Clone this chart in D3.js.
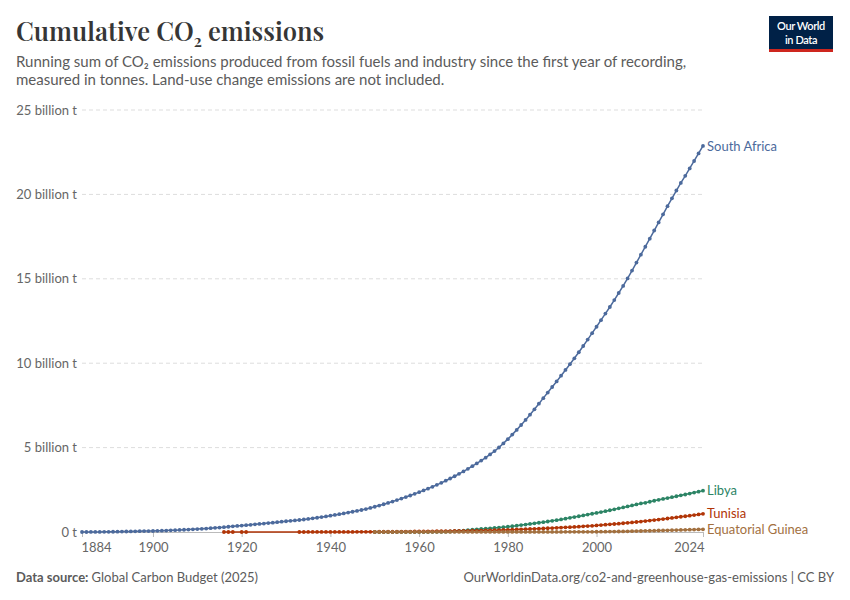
<!DOCTYPE html>
<html>
<head>
<meta charset="utf-8">
<script src="https://cdn.jsdelivr.net/npm/d3@7"></script>
<style>
  body { margin: 0; background: #fff; }
  text { font-family: Lato, "Noto Sans", sans-serif; }
</style>
</head>
<body>
<svg id="chart" width="850" height="600"></svg>
<script>
// cumulative emissions, billion tonnes
const saStart = 1884
const southAfrica = [
  0.000, 0.001, 0.002, 0.004, 0.006, 0.009, 0.012, 0.016, 0.020, 0.025,
  0.030, 0.036, 0.042, 0.048, 0.054, 0.057, 0.060, 0.068, 0.077, 0.087,
  0.098, 0.110, 0.122, 0.134, 0.146, 0.158, 0.171, 0.187, 0.205, 0.225,
  0.245, 0.265, 0.287, 0.310, 0.334, 0.358, 0.382, 0.405, 0.428, 0.452,
  0.477, 0.502, 0.528, 0.555, 0.582, 0.610, 0.637, 0.662, 0.686, 0.712,
  0.741, 0.773, 0.808, 0.845, 0.884, 0.924, 0.966, 1.010, 1.056, 1.103,
  1.151, 1.200, 1.251, 1.304, 1.360, 1.425, 1.495, 1.568, 1.644, 1.723,
  1.805, 1.890, 1.978, 2.069, 2.163, 2.260, 2.360, 2.463, 2.569, 2.679,
  2.794, 2.914, 3.039, 3.169, 3.304, 3.444, 3.589, 3.740, 3.897, 4.060,
  4.229, 4.405, 4.595, 4.795, 5.005, 5.25, 5.50, 5.77, 6.05, 6.34,
  6.64, 6.95, 7.27, 7.60, 7.93, 8.26, 8.59, 8.92, 9.26, 9.60,
  9.94, 10.29, 10.65, 11.02, 11.40, 11.78, 12.16, 12.55, 12.94, 13.33,
  13.74, 14.16, 14.58, 15.02, 15.49, 15.96, 16.43, 16.90, 17.38, 17.86,
  18.34, 18.82, 19.30, 19.77, 20.23, 20.68, 21.10, 21.54, 21.98, 22.43,
  22.87
]

const libyaStart = 1950
const libya = [
  0.000, 0.000, 0.001, 0.001, 0.001, 0.002, 0.002, 0.003, 0.003, 0.004,
  0.004, 0.005, 0.006, 0.008, 0.011, 0.015, 0.021, 0.030, 0.043, 0.062,
  0.085, 0.110, 0.135, 0.158, 0.178, 0.198, 0.218, 0.240, 0.262, 0.285,
  0.310, 0.342, 0.375, 0.408, 0.442, 0.477, 0.512, 0.548, 0.585, 0.622,
  0.660, 0.703, 0.747, 0.792, 0.838, 0.885, 0.933, 0.982, 1.032, 1.082,
  1.130, 1.182, 1.235, 1.289, 1.344, 1.400, 1.457, 1.515, 1.574, 1.634,
  1.695, 1.730, 1.792, 1.850, 1.905, 1.958, 2.010, 2.063, 2.117, 2.172,
  2.222, 2.278, 2.334, 2.391, 2.447
]

const tunisiaEarlyYears = [1916, 1917, 1918, 1920, 1921]
const tunisiaEarly = [0.0001, 0.0002, 0.0003, 0.0004, 0.0005]
const tunisiaStart = 1933
const tunisia = [
  0.001, 0.001, 0.002, 0.002, 0.003, 0.003, 0.004,
  0.004, 0.005, 0.005, 0.006, 0.006, 0.007, 0.008, 0.009, 0.010, 0.011,
  0.012, 0.014, 0.016, 0.018, 0.020, 0.022, 0.024, 0.026, 0.028, 0.030,
  0.032, 0.035, 0.038, 0.041, 0.044, 0.047, 0.050, 0.054, 0.058, 0.062,
  0.066, 0.071, 0.076, 0.081, 0.087, 0.093, 0.099, 0.106, 0.113, 0.121,
  0.129, 0.138, 0.147, 0.157, 0.167, 0.177, 0.188, 0.199, 0.210, 0.222,
  0.234, 0.247, 0.260, 0.274, 0.288, 0.303, 0.318, 0.334, 0.350, 0.367,
  0.390, 0.410, 0.431, 0.452, 0.474, 0.496, 0.519, 0.543, 0.567, 0.592,
  0.618, 0.646, 0.675, 0.705, 0.736, 0.768, 0.801, 0.834, 0.868, 0.902,
  0.934, 0.968, 1.003, 1.040, 1.078
]

const eqGuineaStart = 1950
const eqGuinea = [
  0.0001, 0.0002, 0.0003, 0.0004, 0.0005, 0.0006, 0.0007, 0.0008, 0.0009, 0.0010,
  0.0011, 0.0012, 0.0014, 0.0015, 0.0017, 0.0018, 0.0020, 0.0022, 0.0024, 0.0026,
  0.0028, 0.0030, 0.0032, 0.0034, 0.0036, 0.0038, 0.0040, 0.0042, 0.0044, 0.0046,
  0.0048, 0.0050, 0.0052, 0.0054, 0.0056, 0.0058, 0.0060, 0.0062, 0.0064, 0.0066,
  0.0068, 0.0070, 0.0073, 0.0076, 0.0080, 0.0085, 0.0092, 0.0102, 0.0115, 0.0130,
  0.015, 0.017, 0.020, 0.023, 0.027, 0.031, 0.036, 0.041, 0.047, 0.053,
  0.060, 0.067, 0.074, 0.081, 0.088, 0.095, 0.102, 0.109, 0.116, 0.123,
  0.130, 0.137, 0.144, 0.151, 0.158
]

const xTicks = [1884, 1900, 1920, 1940, 1960, 1980, 2000, 2024]
const yTicks = [0, 5, 10, 15, 20, 25]

const fromStart = (start, vals) => vals.map((v, i) => ({ year: start + i, value: v }))

const series = [
  { name: "South Africa", color: "#4c6a9c", points: fromStart(saStart, southAfrica) },
  { name: "Libya", color: "#2c8465", points: fromStart(libyaStart, libya) },
  { name: "Tunisia", color: "#b13507",
    points: tunisiaEarlyYears.map((y, i) => ({ year: y, value: tunisiaEarly[i] }))
      .concat(fromStart(tunisiaStart, tunisia)) },
  { name: "Equatorial Guinea", color: "#a2703f", points: fromStart(eqGuineaStart, eqGuinea) }
]

const svg = d3.select("#chart")

const x = d3.scaleLinear().domain([1884, 2024]).range([82, 703])
const y = d3.scaleLinear().domain([0, 25]).range([532, 110])

// header
const title = svg.append("text")
  .attr("x", 16).attr("y", 41)
  .style("font-family", "'Playfair Display', 'Liberation Serif', serif")
  .attr("font-size", 25.5)
  .attr("font-weight", 600)
  .attr("fill", "#363636")
title.append("tspan").text("Cumulative CO")
title.append("tspan").text("2").attr("font-size", 16).attr("dy", 6)
title.append("tspan").text(" emissions").attr("dy", -6)

const sub = svg.append("g").attr("font-size", 15).attr("fill", "#5b5b5b")
sub.append("text").attr("x", 16).attr("y", 67)
  .text("Running sum of CO₂ emissions produced from fossil fuels and industry since the first year of recording,")
sub.append("text").attr("x", 16).attr("y", 85)
  .text("measured in tonnes. Land-use change emissions are not included.")

// logo
const logo = svg.append("g")
logo.append("rect").attr("x", 769).attr("y", 16).attr("width", 64).attr("height", 36).attr("fill", "#002147")
logo.append("rect").attr("x", 769).attr("y", 49).attr("width", 64).attr("height", 3).attr("fill", "#ce261e")
logo.selectAll("text").data(["Our World", "in Data"]).join("text")
  .attr("x", 801).attr("y", (d, i) => 30 + i * 13.5)
  .attr("text-anchor", "middle")
  .attr("fill", "#fff").attr("font-size", 11).attr("font-weight", 600).attr("letter-spacing", -0.4)
  .text(d => d)

// y grid + labels
const yAxis = d3.axisLeft(y).tickValues(yTicks).tickSize(0)
  .tickFormat(d => d === 0 ? "0 t" : d + " billion t")
const gy = svg.append("g").attr("transform", "translate(77,0)").call(yAxis)
gy.select(".domain").remove()
gy.selectAll("text").attr("font-size", 13).attr("fill", "#666").attr("x", 0)
  .style("font-family", "Lato, sans-serif")

svg.append("g").selectAll("line")
  .data(yTicks.filter(d => d > 0))
  .join("line")
  .attr("x1", 82).attr("x2", 703)
  .attr("y1", d => y(d)).attr("y2", d => y(d))
  .attr("stroke", "#ddd").attr("stroke-dasharray", "4,3")

// x axis
const xAxis = d3.axisBottom(x).tickValues(xTicks).tickFormat(d3.format("d")).tickSize(5).tickPadding(6)
const gx = svg.append("g").attr("transform", `translate(0,${y(0)})`).call(xAxis)
gx.select(".domain").attr("stroke", "#bbb")
gx.selectAll(".tick line").attr("stroke", "#bbb")
gx.selectAll("text").attr("font-size", 13).attr("fill", "#666")
  .style("font-family", "Lato, sans-serif")
gx.selectAll(".tick text").filter(d => d === 1884).attr("text-anchor", "start").attr("dx", -1)
gx.selectAll(".tick text").filter(d => d === 2024).attr("text-anchor", "end").attr("dx", 1)

// lines
const line = d3.line().x(d => x(d.year)).y(d => y(d.value))
const gs = svg.append("g").selectAll("g").data(series).join("g")
gs.append("path")
  .attr("d", d => line(d.points))
  .attr("fill", "none").attr("stroke", d => d.color).attr("stroke-width", 1.5)
gs.each(function (s) {
  d3.select(this).selectAll("circle").data(s.points).join("circle")
    .attr("cx", d => x(d.year)).attr("cy", d => y(d.value))
    .attr("r", 1.9).attr("fill", s.color)
})

// end labels
svg.append("g").selectAll("text").data(series).join("text")
  .attr("x", 707)
  .attr("y", d => y(d.points[d.points.length - 1].value))
  .attr("dy", "0.35em")
  .attr("font-size", 13)
  .attr("fill", d => d.color)
  .text(d => d.name)

// footer
const foot = svg.append("g").attr("font-size", 13).attr("fill", "#5b5b5b")
const src = foot.append("text").attr("x", 16).attr("y", 582)
src.append("tspan").attr("font-weight", 700).text("Data source: ")
src.append("tspan").text("Global Carbon Budget (2025)")
foot.append("text").attr("x", 834).attr("y", 582).attr("text-anchor", "end")
  .text("OurWorldinData.org/co2-and-greenhouse-gas-emissions | CC BY")
</script>
</body>
</html>
